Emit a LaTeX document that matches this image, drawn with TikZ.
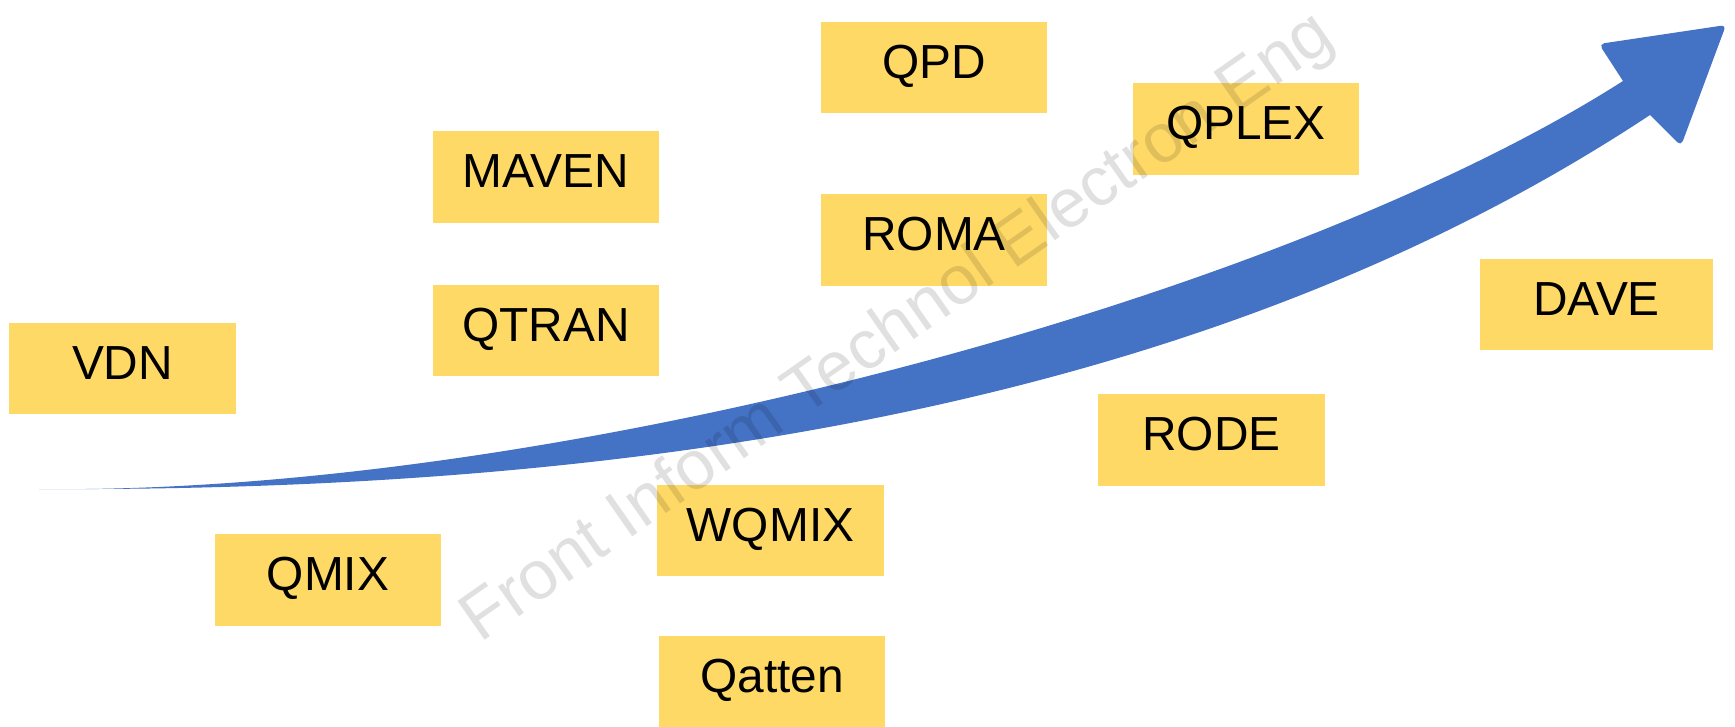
\documentclass[tikz,border=0pt]{standalone}
\usepackage{fontspec}
\setmainfont{Liberation Sans}
\usepackage{tikz, xcolor}

\definecolor{boxyellow}{HTML}{FFD966}
\definecolor{arrowblue}{HTML}{4472C4}

\tikzset{
  algo/.style={fill=boxyellow, inner sep=0pt, minimum width=2.26cm,
    text height=0.56cm, text depth=0.35cm, align=center,
    font=\fontsize{13.6pt}{16pt}\selectfont},
}

\begin{document}
\begin{tikzpicture}[x=0.01cm, y=-0.01cm]
    \useasboundingbox (0, 0) rectangle (1735, 727);

    \node [algo] (vdn) at (122.5, 368.5) {VDN};
    \node [algo] (qmix) at (328, 580) {QMIX};
    \node [algo] (maven) at (546, 177) {MAVEN};
    \node [algo] (qtran) at (546, 330.5) {QTRAN};
    \node [algo] (wqmix) at (770.5, 530.5) {WQMIX};
    \node [algo] (qatten) at (772, 682) {Qatten};
    \node [algo] (qpd) at (934, 67.5) {QPD};
    \node [algo] (roma) at (934, 240) {ROMA};
    \node [algo] (qplex) at (1246, 129) {QPLEX};
    \node [algo] (rode) at (1211.5, 440) {RODE};
    \node [algo, minimum width=2.33cm] (dave) at (1596.5, 304.5) {DAVE};

    \fill [arrowblue] (39, 489) .. controls (550, 495) and (1280, 300) .. (1623, 81)
      [rounded corners=1.5pt] -- (1599, 44) -- (1726, 25) -- (1681, 146)
      [sharp corners] -- (1650, 115)
      .. controls (1216, 402) and (650, 492) .. (39, 489) -- cycle;

    \node [anchor=base west, rotate=35, text=black, text opacity=0.12, inner sep=0pt,
      font=\fontsize{19.6pt}{23pt}\selectfont] (wmark) at (480, 644)
      {Front Inform Technol Electron Eng};

  \end{tikzpicture}
\end{document}
